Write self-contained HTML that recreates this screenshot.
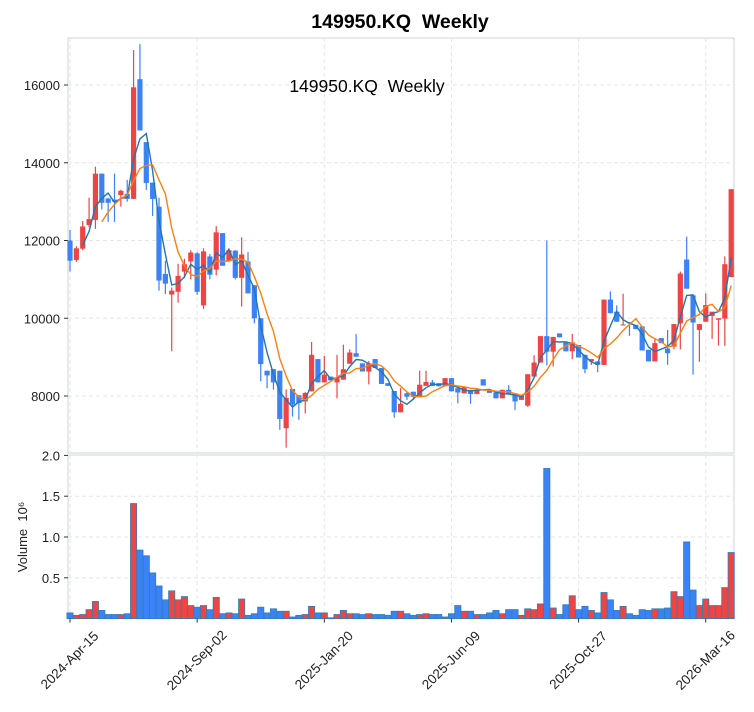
<!DOCTYPE html>
<html><head><meta charset="utf-8"><style>
html,body{margin:0;padding:0;background:#fff;}
svg{display:block;font-family:"Liberation Sans",sans-serif;}
</style></head><body>
<svg id="chart" width="754" height="712" viewBox="0 0 754 712"></svg>
<script>
const opens=[12000,11500,11790,12400,12530,13720,13080,13050,13170,13200,13070,16150,14530,13490,12870,11140,10610,10680,11200,11460,11670,10330,11590,11250,12190,11480,11740,11040,11460,10850,10000,8650,8690,8650,7170,8180,8020,7860,8120,8950,8350,8500,8350,8420,8830,9100,8840,8630,8950,8720,8330,8130,7580,8070,8110,7970,8260,8350,8330,8250,8460,8200,8070,8160,8050,8430,8160,8090,7940,8160,8070,7900,7750,8500,8860,9540,9140,9610,9380,9150,9310,9060,8890,8890,8800,10480,10170,9830,9900,9830,9790,9190,8890,9490,9220,9270,9870,11510,10590,9700,9910,10060,9960,9990,11060];
const closes=[11480,11800,12360,12550,13720,12970,12970,13000,13280,13070,15940,14830,13480,13070,10970,10890,10710,11090,11390,11690,10680,11720,11120,12210,11350,11750,11040,11640,10640,10000,8820,8530,8350,7410,7950,7780,7820,8080,9060,8350,8550,8400,8460,8690,9120,9010,8630,8840,8720,8310,8260,7580,7800,7980,7980,8290,8360,8260,8250,8460,8120,8090,8240,8050,8160,8270,8080,7940,8160,8050,7860,8010,8560,8860,9540,9140,9520,9510,9150,9380,8990,8690,8950,8800,10480,10130,9910,9840,9870,9720,9170,8890,9360,9360,9100,9850,11150,10760,9890,9850,10340,10170,10000,11390,13320];
const highs=[12270,11850,12500,13100,13900,13720,13100,13720,13300,13560,16900,17050,14530,13490,13100,11480,10790,11400,11530,11750,11700,11800,11650,12370,12190,11800,11750,12080,11700,10850,10000,8650,8690,8650,8170,8180,8020,8100,9390,8950,9030,8500,9060,9320,9200,9590,8840,8900,8950,8720,8330,8130,8200,8100,8110,8650,8650,8410,8330,8460,8460,8200,8240,8160,8160,8430,8160,8090,8160,8280,8070,8010,8560,9050,9540,12000,9520,9610,9400,9600,9310,9060,8950,8890,10480,10690,10330,10630,9900,9830,9790,9190,9480,9490,9700,9850,11200,12100,10590,9850,10640,10160,10000,11590,13320];
const lows=[11200,11450,11750,12350,12300,12800,12480,12480,12870,13000,13070,14830,13300,12630,10710,10620,9150,10400,11030,11000,10600,10240,11000,11100,11350,11480,11000,10300,10640,9870,8380,8200,8160,7130,6670,7470,7390,7550,8120,8350,8350,8400,7940,8420,8830,9010,8630,8300,8720,8310,8260,7440,7580,7900,7900,7970,8260,8260,8250,8250,8120,7810,8070,7800,8050,8270,8080,7940,7940,8050,7640,7900,7720,8500,8860,8790,8760,9510,9150,8950,8990,8590,8800,8610,8800,10130,9910,9830,9550,9720,9170,8890,8890,9360,8800,9200,9200,10760,8550,8880,9910,9470,9300,9290,11060];
const volumes=[0.07,0.04,0.05,0.11,0.21,0.10,0.05,0.05,0.05,0.06,1.41,0.84,0.77,0.56,0.40,0.23,0.34,0.23,0.27,0.16,0.14,0.16,0.11,0.26,0.06,0.07,0.06,0.24,0.04,0.06,0.14,0.07,0.12,0.09,0.09,0.02,0.04,0.05,0.15,0.07,0.07,0.01,0.05,0.10,0.06,0.06,0.05,0.06,0.05,0.05,0.04,0.09,0.09,0.06,0.04,0.05,0.06,0.05,0.05,0.02,0.06,0.16,0.09,0.09,0.05,0.05,0.07,0.10,0.06,0.11,0.11,0.04,0.12,0.11,0.18,1.84,0.13,0.05,0.17,0.28,0.11,0.15,0.10,0.07,0.32,0.23,0.10,0.15,0.06,0.04,0.11,0.10,0.12,0.12,0.13,0.33,0.27,0.94,0.35,0.16,0.24,0.16,0.16,0.38,0.81];
const priceTicks=[8000,10000,12000,14000,16000];
const volTicks=[0.5,1.0,1.5,2.0];
const xTickIdx=[0,20,40,60,80,100];
const xTickLabels=["2024-Apr-15","2024-Sep-02","2025-Jan-20","2025-Jun-09","2025-Oct-27","2026-Mar-16"];

const svg=document.getElementById('chart');
const NS='http://www.w3.org/2000/svg';
function mk(tag,attrs,parent){const e=document.createElementNS(NS,tag);for(const k in attrs)e.setAttribute(k,attrs[k]);(parent||svg).appendChild(e);return e;}
const L=68,R=734,PT=38,PB=453,VT=455,VB=618.6;
const n=closes.length;
const xS=i=>70+(i)*(R-L-4.5)/(n-1+0.05);
const pY=p=>396-(p-8000)*77.75/2000;
const vY=v=>VB-v*81.6;

let g=mk('g',{});
mk('rect',{x:L,y:PT,width:R-L,height:PB-PT,fill:'none',stroke:'#d0d3dc'},g);
priceTicks.forEach(t=>{const y=pY(t);
 mk('line',{x1:L,x2:R,y1:y,y2:y,stroke:'#e6e6e6','stroke-dasharray':'4,3'},g);
 mk('line',{x1:L-4,x2:L,y1:y,y2:y,stroke:'#333'},g);
 const tx=mk('text',{x:L-8,y:y+5,'text-anchor':'end','font-size':13,fill:'#222'},g);tx.textContent=t;
 });
xTickIdx.forEach(i=>{const x=xS(i);mk('line',{x1:x,x2:x,y1:PT,y2:PB,stroke:'#e6e6e6','stroke-dasharray':'4,3'},g);
 mk('line',{x1:x,x2:x,y1:VT,y2:VB,stroke:'#e6e6e6','stroke-dasharray':'4,3'},g);});
let vg=mk('g',{});
mk('rect',{x:L,y:VT,width:R-L,height:VB-VT,fill:'none',stroke:'#d0d3dc'},vg);
volTicks.forEach(t=>{const y=vY(t);
 mk('line',{x1:L,x2:R,y1:y,y2:y,stroke:'#e6e6e6','stroke-dasharray':'4,3'},vg);
 mk('line',{x1:L-4,x2:L,y1:y,y2:y,stroke:'#333'},vg);
 const tx=mk('text',{x:L-8,y:y+5,'text-anchor':'end','font-size':13,fill:'#222'},vg);tx.textContent=t.toFixed(1);
 });

for(let i=0;i<n;i++){const up=closes[i]>=opens[i];const x=xS(i);
 const r=mk('rect',{x:x-3.1,y:vY(volumes[i]),width:6.2,height:VB-vY(volumes[i]),fill:up?'#ef4444':'#3b82f6',stroke:'#2f7fb8','stroke-width':0.8},vg);
 
 }

for(let i=0;i<n;i++){const up=closes[i]>=opens[i];const c=up?'#ef4444':'#3b82f6';const x=xS(i);
 const cg=mk('g',{},g);
 
 
 mk('line',{x1:x,x2:x,y1:pY(highs[i]),y2:pY(lows[i]),stroke:c,'stroke-width':1.2},cg);
 const top=pY(Math.max(opens[i],closes[i])),bot=pY(Math.min(opens[i],closes[i]));
 mk('rect',{x:x-2.6,y:top,width:5.2,height:Math.max(1,bot-top),fill:c},cg);}

function ma(w){let pts=[];for(let i=w-1;i<n;i++){let s=0;for(let k=i-w+1;k<=i;k++)s+=closes[k];pts.push(xS(i).toFixed(1)+','+pY(s/w).toFixed(1));}return pts.join(' ');}
const m3=mk('polyline',{points:ma(3),fill:'none',stroke:'#1f77b4','stroke-width':1.4},g);

const m6=mk('polyline',{points:ma(6),fill:'none',stroke:'#ff7f0e','stroke-width':1.4},g);


xTickIdx.forEach((i,k)=>{const x=xS(i);mk('line',{x1:x,x2:x,y1:VB,y2:VB+4,stroke:'#333'});
 const cy=VB+42;
 const t=mk('text',{x:x,y:cy+4,'text-anchor':'middle','font-size':13.5,fill:'#222',transform:`rotate(-45 ${x} ${cy})`});
 t.textContent=xTickLabels[k];
 });

const title=mk('text',{x:400,y:28,'text-anchor':'middle','font-size':19.5,'font-weight':'bold',fill:'#000'});
title.textContent='149950.KQ\u00a0\u00a0Weekly';
const sub=mk('text',{x:367,y:92,'text-anchor':'middle','font-size':17.5,fill:'#000'});
sub.textContent='149950.KQ\u00a0\u00a0Weekly';
const yl=mk('text',{x:27,y:537,'text-anchor':'middle','font-size':13,fill:'#222',transform:'rotate(-90 27 537)'});
yl.textContent='Volume\u00a0\u00a010\u2076';
</script>
</body></html>
